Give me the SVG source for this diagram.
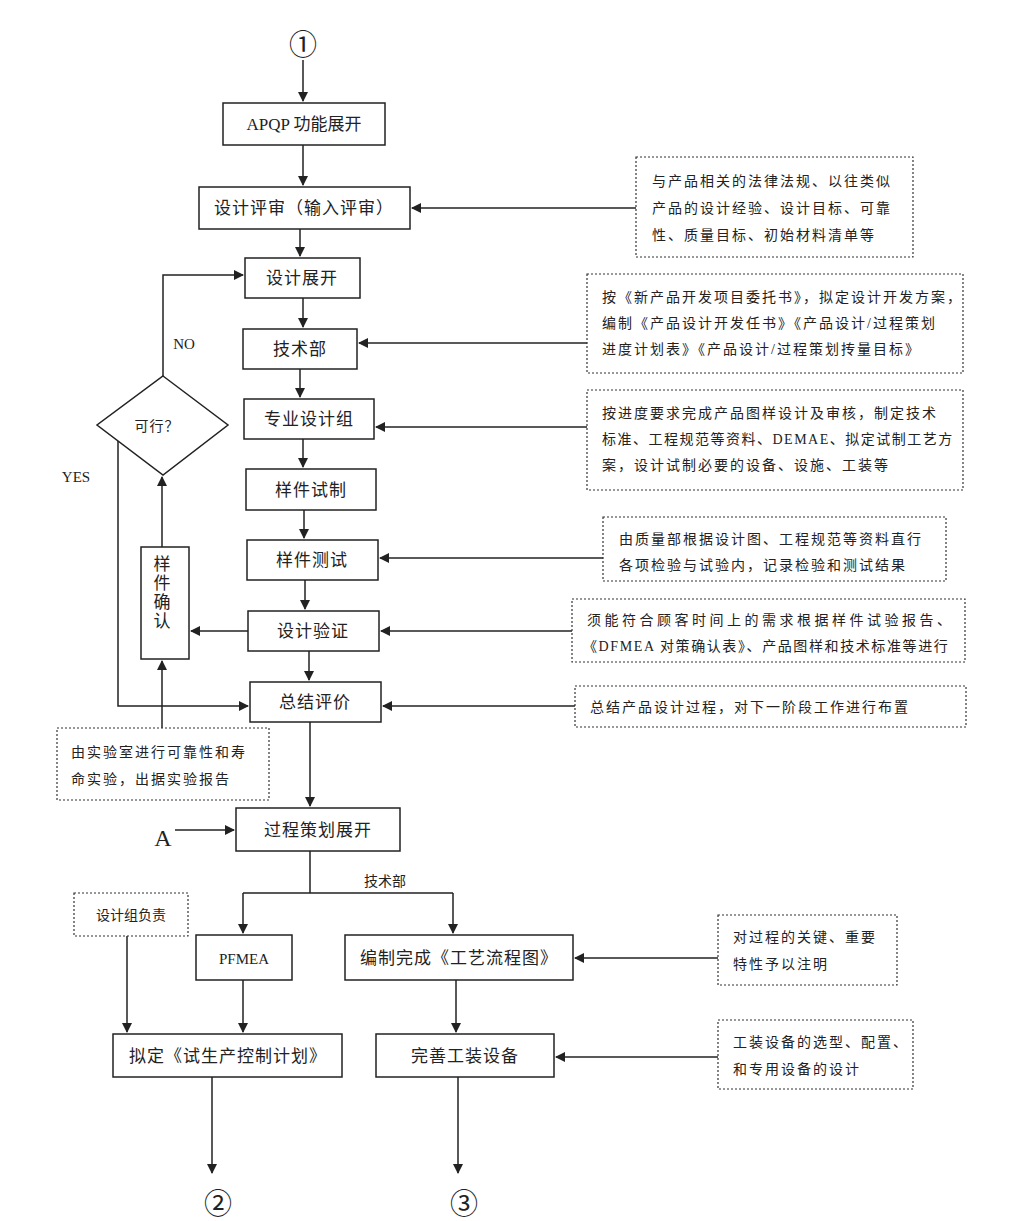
<svg xmlns="http://www.w3.org/2000/svg" width="1015" height="1221" viewBox="0 0 1015 1221">
<style>
text{font-family:"Liberation Serif","Noto Sans CJK SC",serif;fill:#222}
.b{fill:#fff;stroke:#222;stroke-width:1.5}
.n{fill:#fff;stroke:#333;stroke-width:1.2;stroke-dasharray:2 2}
.t{font-size:17px;text-anchor:middle;letter-spacing:1px}
.s{font-size:14px;letter-spacing:2px}
.l{fill:none;stroke:#222;stroke-width:1.5}
.c{font-size:28px;text-anchor:middle}
</style>
<defs><marker id="a" markerWidth="10" markerHeight="10" refX="9" refY="5" orient="auto" markerUnits="userSpaceOnUse"><path d="M0,0 L10,5 L0,10 Z" fill="#222"/></marker></defs>
<rect width="1015" height="1221" fill="#fff"/>
<g id="connectors">
<path class="l" d="M303,60 V101" marker-end="url(#a)"/>
<path class="l" d="M303,145 V185" marker-end="url(#a)"/>
<path class="l" d="M636,208 H412" marker-end="url(#a)"/>
<path class="l" d="M300,229 V256" marker-end="url(#a)"/>
<path class="l" d="M303,298 V327" marker-end="url(#a)"/>
<path class="l" d="M587,343 H359" marker-end="url(#a)"/>
<path class="l" d="M300,369 V397" marker-end="url(#a)"/>
<path class="l" d="M587,427 H376" marker-end="url(#a)"/>
<path class="l" d="M303,439 V467" marker-end="url(#a)"/>
<path class="l" d="M304,510 V538" marker-end="url(#a)"/>
<path class="l" d="M603,558 H380" marker-end="url(#a)"/>
<path class="l" d="M305,580 V609" marker-end="url(#a)"/>
<path class="l" d="M572,631 H381" marker-end="url(#a)"/>
<path class="l" d="M309,651 V680" marker-end="url(#a)"/>
<path class="l" d="M575,706 H383" marker-end="url(#a)"/>
<path class="l" d="M248,631 H191" marker-end="url(#a)"/>
<path class="l" d="M162,547 V477" marker-end="url(#a)"/>
<path class="l" d="M163,376 V275 H243" marker-end="url(#a)"/>
<path class="l" d="M118,428 V706 H248" marker-end="url(#a)"/>
<path class="l" d="M162,728 V661" marker-end="url(#a)"/>
<path class="l" d="M310,722 V806" marker-end="url(#a)"/>
<path class="l" d="M175,830 H234" marker-end="url(#a)"/>
<path class="l" d="M310,851 V893 M243,893 H453"/>
<path class="l" d="M243,893 V933" marker-end="url(#a)"/>
<path class="l" d="M453,893 V933" marker-end="url(#a)"/>
<path class="l" d="M718,958 H575" marker-end="url(#a)"/>
<path class="l" d="M127,936 V1032" marker-end="url(#a)"/>
<path class="l" d="M243,980 V1032" marker-end="url(#a)"/>
<path class="l" d="M456,980 V1032" marker-end="url(#a)"/>
<path class="l" d="M718,1057 H556" marker-end="url(#a)"/>
<path class="l" d="M212,1077 V1173" marker-end="url(#a)"/>
<path class="l" d="M458,1077 V1173" marker-end="url(#a)"/>
</g>
<g id="labels">
<text x="184" y="349" style="font-size:15px" text-anchor="middle">NO</text>
<text x="76" y="482" style="font-size:15px" text-anchor="middle">YES</text>
<text x="163" y="846" style="font-size:24px" text-anchor="middle">A</text>
<text x="385" y="886" class="s" text-anchor="middle" style="letter-spacing:0">技术部</text>
</g>
<g id="c1"><text x="303" y="55" class="c">①</text></g>
<g id="c2"><text x="218" y="1214" class="c">②</text></g>
<g id="c3"><text x="464" y="1214" class="c">③</text></g>
<g id="apqp"><rect class="b" x="223" y="103" width="162" height="42"/><text x="304" y="130" class="t" style="letter-spacing:0">APQP 功能展开</text></g>
<g id="review"><rect class="b" x="199" y="187" width="211" height="42"/><text x="304" y="214" class="t">设计评审（输入评审）</text></g>
<g id="n1"><rect class="n" x="636" y="157" width="277" height="100"/><text class="s" x="652" y="186">与产品相关的法律法规、以往类似</text><text class="s" x="652" y="213">产品的设计经验、设计目标、可靠</text><text class="s" x="652" y="240">性、质量目标、初始材料清单等</text></g>
<g id="expand"><rect class="b" x="245" y="258" width="115" height="40"/><text x="302" y="284" class="t">设计展开</text></g>
<g id="tech"><rect class="b" x="243" y="329" width="114" height="40"/><text x="300" y="355" class="t">技术部</text></g>
<g id="n2"><rect class="n" x="587" y="274" width="376" height="99"/><text class="s" x="602" y="302">按《新产品开发项目委托书》，拟定设计开发方案，</text><text class="s" x="602" y="328">编制《产品设计开发任书》《产品设计/过程策划</text><text class="s" x="602" y="354">进度计划表》《产品设计/过程策划抟量目标》</text></g>
<g id="group"><rect class="b" x="244" y="399" width="130" height="40"/><text x="309" y="425" class="t">专业设计组</text></g>
<g id="n3"><rect class="n" x="587" y="390" width="376" height="100"/><text class="s" x="602" y="418">按进度要求完成产品图样设计及审核，制定技术</text><text class="s" x="602" y="444" style="letter-spacing:1.5px">标准、工程规范等资料、DEMAE、拟定试制工艺方</text><text class="s" x="602" y="470">案，设计试制必要的设备、设施、工装等</text></g>
<g id="proto"><rect class="b" x="246" y="469" width="130" height="41"/><text x="311" y="496" class="t">样件试制</text></g>
<g id="test"><rect class="b" x="247" y="540" width="131" height="40"/><text x="312" y="566" class="t">样件测试</text></g>
<g id="n4"><rect class="n" x="603" y="517" width="343" height="64"/><text class="s" x="619" y="544">由质量部根据设计图、工程规范等资料直行</text><text class="s" x="619" y="570">各项检验与试验内，记录检验和测试结果</text></g>
<g id="verify"><rect class="b" x="248" y="611" width="131" height="40"/><text x="313" y="637" class="t">设计验证</text></g>
<g id="n5"><rect class="n" x="572" y="599" width="393" height="63"/><text class="s" x="587" y="625" style="letter-spacing:3.5px">须能符合顾客时间上的需求根据样件试验报告、</text><text class="s" x="583" y="651" style="letter-spacing:1.6px">《DFMEA 对策确认表》、产品图样和技术标准等进行</text></g>
<g id="summary"><rect class="b" x="250" y="682" width="131" height="40"/><text x="315" y="708" class="t">总结评价</text></g>
<g id="n6"><rect class="n" x="575" y="686" width="391" height="41"/><text class="s" x="590" y="712">总结产品设计过程，对下一阶段工作进行布置</text></g>
<g id="confirm"><rect class="b" x="141" y="547" width="48" height="112"/><text x="162" y="570" class="t" style="letter-spacing:0">样</text><text x="162" y="589" class="t" style="letter-spacing:0">件</text><text x="162" y="608" class="t" style="letter-spacing:0">确</text><text x="162" y="627" class="t" style="letter-spacing:0">认</text></g>
<g id="decision"><polygon class="b" points="163,376 228,425 163,475 97,425"/><text x="157" y="431" class="s" text-anchor="middle" style="letter-spacing:1px">可行？</text></g>
<g id="lab"><rect class="n" x="57" y="728" width="212" height="72"/><text class="s" x="71" y="757">由实验室进行可靠性和寿</text><text class="s" x="71" y="784">命实验，出据实验报告</text></g>
<g id="process"><rect class="b" x="236" y="808" width="164" height="43"/><text x="318" y="836" class="t">过程策划展开</text></g>
<g id="pfmea"><rect class="b" x="196" y="935" width="96" height="45"/><text x="244" y="964" class="t" style="font-size:15px;letter-spacing:0">PFMEA</text></g>
<g id="flow"><rect class="b" x="345" y="935" width="228" height="45"/><text x="459" y="964" class="t">编制完成《工艺流程图》</text></g>
<g id="n7"><rect class="n" x="718" y="915" width="179" height="70"/><text class="s" x="733" y="942">对过程的关键、重要</text><text class="s" x="733" y="969">特性予以注明</text></g>
<g id="n8"><rect class="n" x="74" y="893" width="114" height="43"/><text class="s" x="131" y="920" text-anchor="middle" style="letter-spacing:0">设计组负责</text></g>
<g id="plan"><rect class="b" x="113" y="1034" width="229" height="43"/><text x="228" y="1062" class="t">拟定《试生产控制计划》</text></g>
<g id="equip"><rect class="b" x="376" y="1034" width="178" height="43"/><text x="465" y="1062" class="t">完善工装设备</text></g>
<g id="n9"><rect class="n" x="718" y="1020" width="195" height="69"/><text class="s" x="733" y="1047">工装设备的选型、配置、</text><text class="s" x="733" y="1074">和专用设备的设计</text></g>
</svg>
